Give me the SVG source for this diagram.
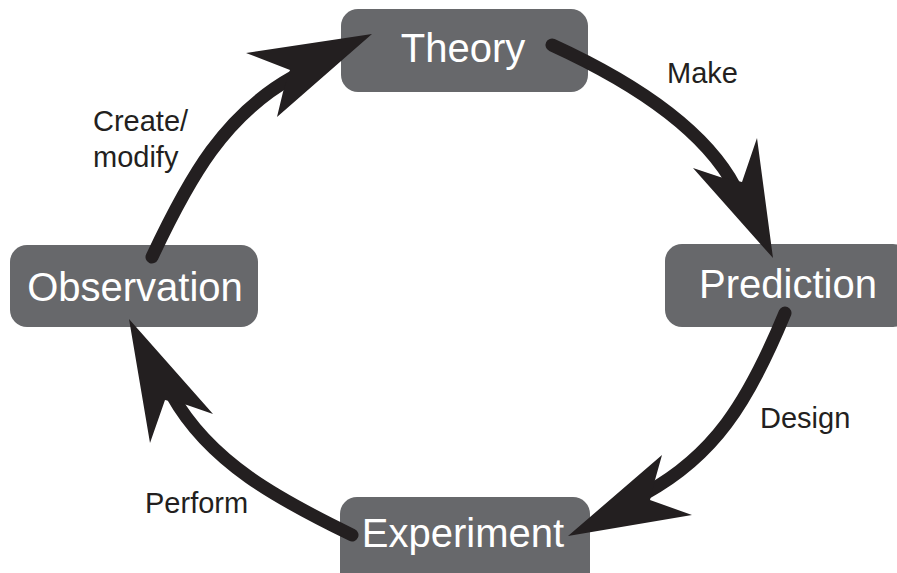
<svg xmlns="http://www.w3.org/2000/svg" width="897" height="573" viewBox="0 0 897 573">
  <style>
    .box { fill: #67686b; }
    .node-label { font-family: "Liberation Sans", Arial, sans-serif; font-size: 40px; fill: #ffffff; text-anchor: middle; }
    .edge-label { font-family: "Liberation Sans", Arial, sans-serif; font-size: 29px; fill: #231f20; }
    .shaft { fill: none; stroke: #231f20; stroke-width: 13; stroke-linecap: round; }
    .head { fill: #231f20; }
  </style>
  <rect width="897" height="573" fill="#ffffff"/>

  <!-- nodes -->
  <g id="theory">
    <rect class="box" x="341" y="9" width="247" height="83" rx="17"/>
    <text class="node-label" x="463" y="62">Theory</text>
  </g>
  <g id="prediction">
    <rect class="box" x="665" y="244" width="245" height="83" rx="17"/>
    <text class="node-label" x="788" y="298">Prediction</text>
  </g>
  <g id="experiment">
    <rect class="box" x="340" y="497" width="250" height="95" rx="17"/>
    <text class="node-label" x="463" y="547">Experiment</text>
  </g>
  <g id="observation">
    <rect class="box" x="10" y="245" width="248" height="82" rx="17"/>
    <text class="node-label" x="135" y="301">Observation</text>
  </g>

  <!-- connectors: curved shafts with swept arrowheads -->
  <g id="connectors">
    <!-- Theory -> Prediction -->
    <path class="shaft" d="M552,45 Q694,110 735,187"/>
    <polygon class="head" points="773,258 693,168 720,177 742,182 757,138"/>
    <!-- Prediction -> Experiment -->
    <path class="shaft" d="M785,313 C747,405 713,456 646,493"/>
    <polygon class="head" points="568,536 662,455 655,480 650,500 692,515"/>
    <!-- Experiment -> Observation -->
    <path class="shaft" d="M352,535 C280,500 210,463 172,395"/>
    <polygon class="head" points="129,319 150,443 165,400 187,405 213,414"/>
    <!-- Observation -> Theory -->
    <path class="shaft" d="M152,257 C190,176 225,115 293,77"/>
    <polygon class="head" points="372,34 246,53 290,70 283,92 277,117"/>
  </g>

  <!-- connector labels -->
  <g id="labels">
    <text class="edge-label" x="667" y="83">Make</text>
    <text class="edge-label" x="760" y="428">Design</text>
    <text class="edge-label" x="145" y="513">Perform</text>
    <text class="edge-label" x="93" y="131">Create/</text>
    <text class="edge-label" x="93" y="167">modify</text>
  </g>
</svg>
